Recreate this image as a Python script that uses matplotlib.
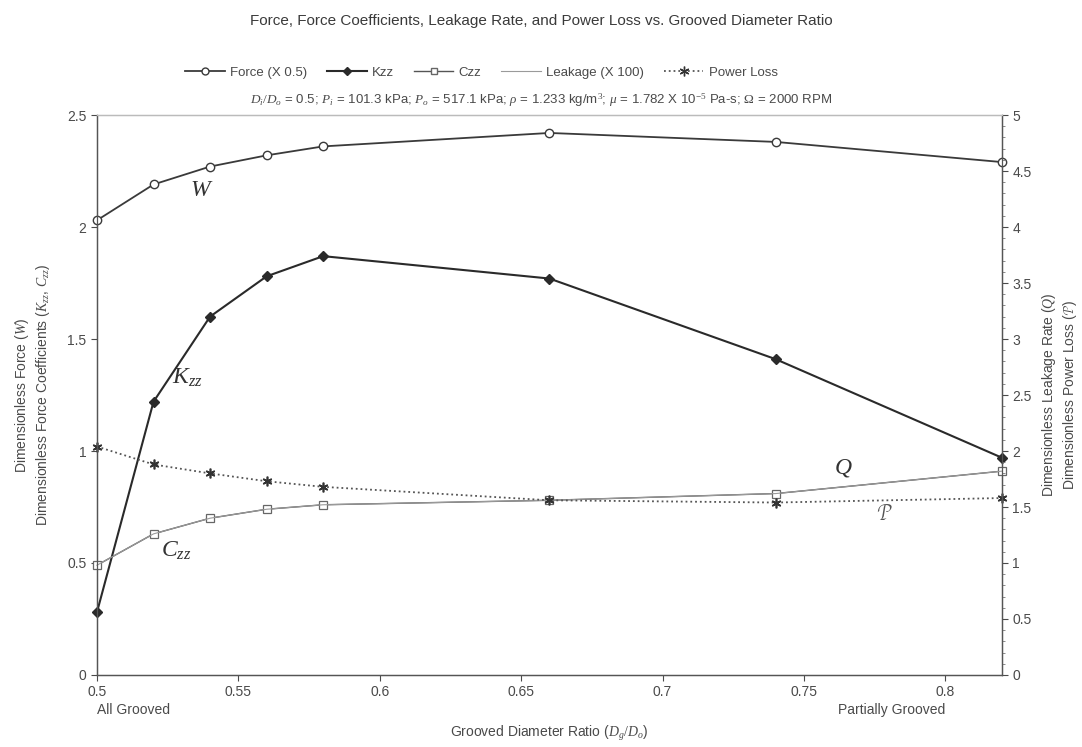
import matplotlib.pyplot as plt
from matplotlib.lines import Line2D
from matplotlib.ticker import MultipleLocator, FormatStrFormatter

plt.rcParams["font.family"] = ["Liberation Sans", "DejaVu Sans"]
plt.rcParams["mathtext.fontset"] = "custom"
plt.rcParams["mathtext.rm"] = "Liberation Serif"
plt.rcParams["mathtext.it"] = "Liberation Serif:italic"

# grooved diameter ratio Dg/Do
ratio = [0.50, 0.52, 0.54, 0.56, 0.58, 0.66, 0.74, 0.82]

# left axis series
force = [2.03, 2.19, 2.27, 2.32, 2.36, 2.42, 2.38, 2.29]     # W (x 0.5)
kzz = [0.28, 1.22, 1.60, 1.78, 1.87, 1.77, 1.41, 0.97]
czz = [0.49, 0.63, 0.70, 0.74, 0.76, 0.78, 0.81, 0.91]

# right axis series
leakage = [0.98, 1.26, 1.40, 1.48, 1.52, 1.56, 1.62, 1.82]   # Q (x 100)
power_loss = [2.04, 1.88, 1.80, 1.73, 1.68, 1.56, 1.54, 1.58]

xticks = [0.5, 0.55, 0.6, 0.65, 0.7, 0.75, 0.8]

ink = "#3a3a3a"
txt = "#4a4a4a"

fig = plt.figure(figsize=(10.82, 7.47), dpi=100)
ax = fig.add_axes([0.0896, 0.0964, 0.8364, 0.7496])
ax2 = ax.twinx()

ax.plot(ratio, force, "-", color=ink, lw=1.3, marker="o", ms=6,
        mfc="white", mec=ink, mew=1.0, clip_on=False, zorder=4)
ax.plot(ratio, kzz, "-", color="#2a2a2a", lw=1.5, marker="D", ms=5,
        mfc="#2a2a2a", mec="#2a2a2a", clip_on=False, zorder=4)
ax.plot(ratio, czz, "-", color="#555555", lw=1.0, marker="s", ms=6,
        mfc="white", mec="#666666", mew=0.9, clip_on=False, zorder=4)
ax2.plot(ratio, leakage, "-", color="#9a9a9a", lw=0.8, clip_on=False)
ax2.plot(ratio, power_loss, ":", color="#555555", lw=1.3,
         marker=(6, 2, 0), ms=7, mec="#333333", mew=1.2, clip_on=False)

ax.set_xlim(0.5, 0.82)
ax.set_ylim(0, 2.5)
ax2.set_ylim(0, 5)
ax.set_xticks(xticks)
ax.set_xticklabels([f"{t:g}" for t in xticks])
ax.yaxis.set_major_locator(MultipleLocator(0.5))
ax2.yaxis.set_major_locator(MultipleLocator(0.5))
ax2.yaxis.set_minor_locator(MultipleLocator(0.1))
ax.yaxis.set_major_formatter(FormatStrFormatter("%g"))
ax2.yaxis.set_major_formatter(FormatStrFormatter("%g"))

for a in (ax, ax2):
    a.tick_params(colors=txt, labelsize=10, length=4, width=0.8)
    a.tick_params(which="minor", length=2, width=0.6, colors="#777777")
    for s in a.spines.values():
        s.set_color("#555555")
        s.set_linewidth(0.9)
ax.spines["top"].set_color("#bbbbbb")
ax2.spines["top"].set_color("#bbbbbb")
for lab in ax.get_xticklabels() + ax.get_yticklabels() + ax2.get_yticklabels():
    lab.set_color(txt)

ax.set_ylabel("Dimensionless Force ($W$)\nDimensionless Force Coefficients ($K_{zz}$, $C_{zz}$)",
              fontsize=10, color=txt, labelpad=11)
ax2.set_ylabel("Dimensionless Leakage Rate ($Q$)\nDimensionless Power Loss ($\\mathcal{P}$)",
               fontsize=10, color=txt, labelpad=6)
ax.set_xlabel("Grooved Diameter Ratio ($D_g/D_o$)", fontsize=10, color=txt, labelpad=18)

ax.text(0.5, -0.05, "All Grooved", transform=ax.get_xaxis_transform(),
        ha="left", va="top", fontsize=10, color=txt)
ax.text(0.80, -0.05, "Partially Grooved", transform=ax.get_xaxis_transform(),
        ha="right", va="top", fontsize=10, color=txt)

# curve labels
serif = {"fontsize": 17, "color": "#333333", "family": "Liberation Serif", "style": "italic"}
ax.text(0.533, 2.14, "W", **serif)
ax.text(0.5265, 1.30, "$K_{zz}$", fontsize=17, color="#333333")
ax.text(0.5225, 0.53, "$C_{zz}$", fontsize=17, color="#333333")
ax.text(0.761, 0.90, "Q", **serif)
ax.text(0.776, 0.69, "$\\mathcal{P}$", fontsize=15, color="#555555")

fig.text(0.5, 0.972, "Force, Force Coefficients, Leakage Rate, and Power Loss vs. Grooved Diameter Ratio",
         ha="center", va="center", fontsize=11, color="#3a3a3a")
fig.text(0.5, 0.866,
         "$D_i/D_o$ = 0.5; $P_i$ = 101.3 kPa; $P_o$ = 517.1 kPa; $\\rho$ = 1.233 kg/m$^3$; "
         "$\\mu$ = 1.782 X 10$^{-5}$ Pa-s; $\\Omega$ = 2000 RPM",
         ha="center", va="center", fontsize=9.5, color=txt)

handles = [
    Line2D([], [], color=ink, lw=1.3, marker="o", ms=5, mfc="white", mec=ink),
    Line2D([], [], color="#2a2a2a", lw=1.5, marker="D", ms=4, mfc="#2a2a2a"),
    Line2D([], [], color="#555555", lw=1.0, marker="s", ms=5, mfc="white", mec="#666666"),
    Line2D([], [], color="#9a9a9a", lw=0.8),
    Line2D([], [], color="#555555", lw=1.3, ls=":", marker=(6, 2, 0), ms=7, mec="#333333"),
]
names = ["Force (X 0.5)", "Kzz", "Czz", "Leakage (X 100)", "Power Loss"]
leg = fig.legend(handles, names, loc="center", bbox_to_anchor=(0.445, 0.903), ncol=5,
                 frameon=False, fontsize=9.5, handlelength=3.0, columnspacing=1.5,
                 handletextpad=0.4)
for t in leg.get_texts():
    t.set_color(txt)

fig.savefig("out.png", dpi=100)
